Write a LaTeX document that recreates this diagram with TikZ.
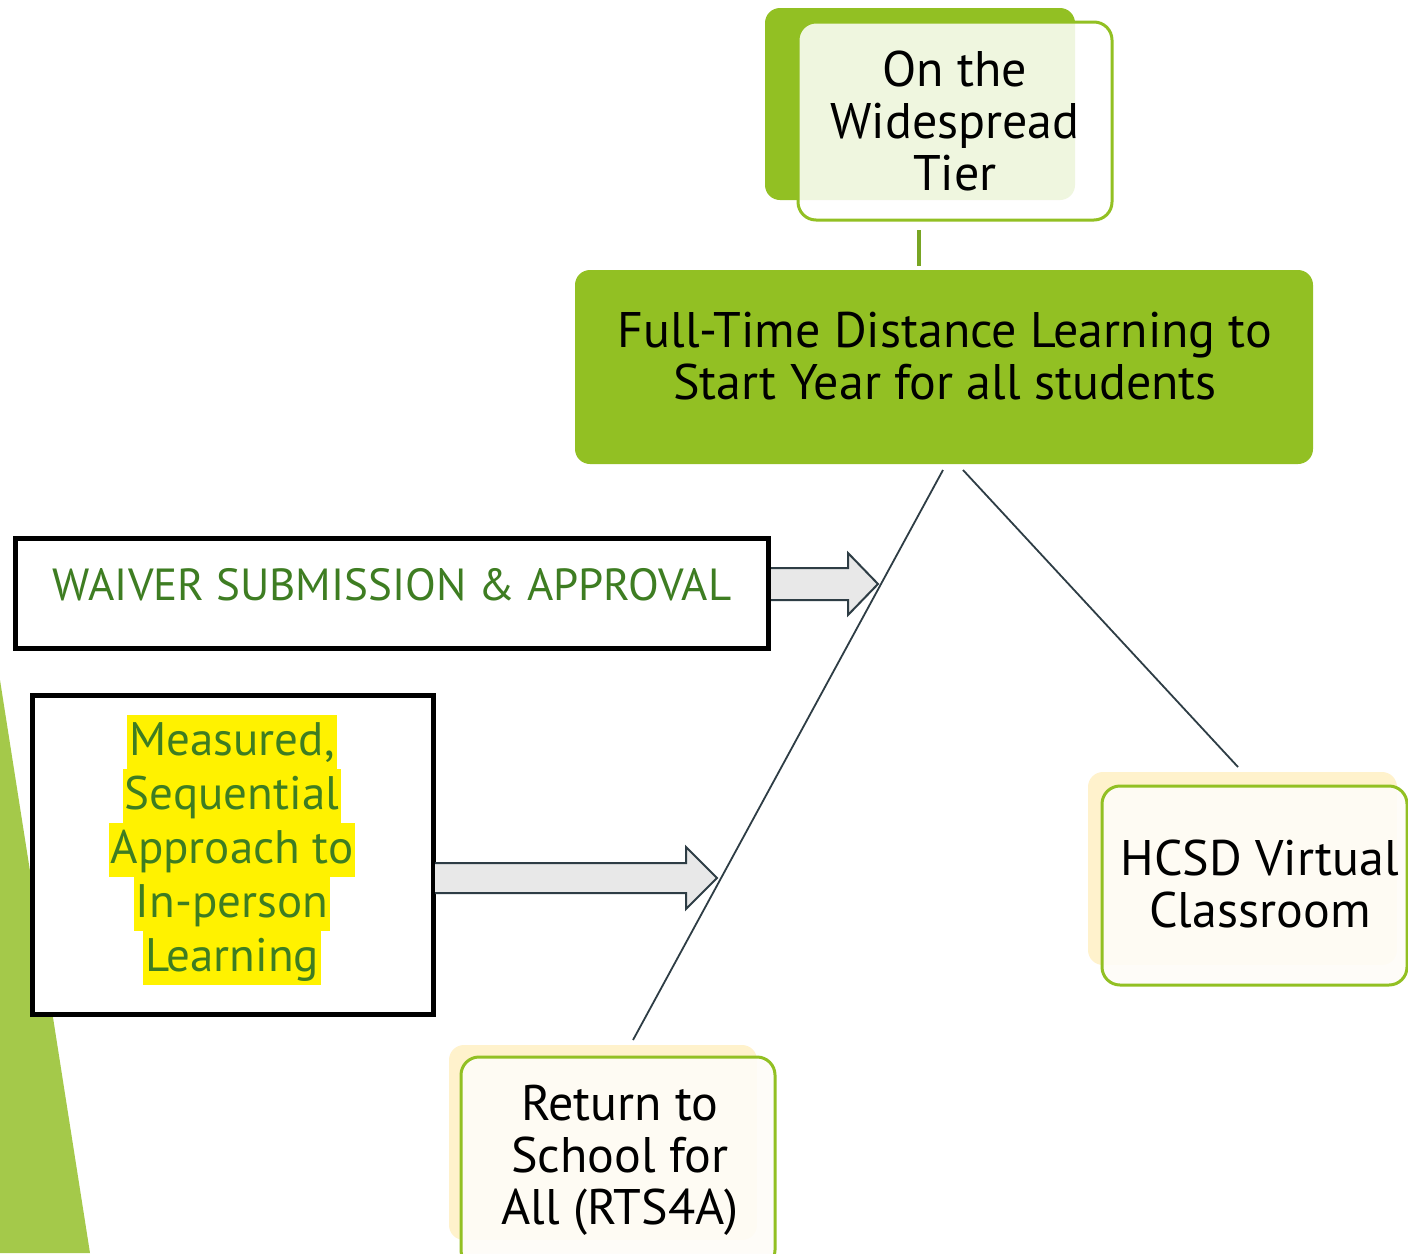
\documentclass[tikz,border=0pt]{standalone}
\usepackage{fontspec}
\setmainfont{PT Sans}
\definecolor{mgreen}{RGB}{146,192,35}
\definecolor{cgreen}{RGB}{120,165,35}
\definecolor{tgreen}{RGB}{164,201,74}
\definecolor{cream}{RGB}{255,242,204}
\definecolor{dgreen}{RGB}{62,125,34}
\definecolor{slate}{RGB}{46,61,69}
\definecolor{afill}{RGB}{232,232,232}
\definecolor{paper}{RGB}{254,252,248}
\tikzset{
  big/.style={font=\fontsize{50}{52}\selectfont, align=center},
  backbox/.style={rounded corners=15pt},
  frontbox/.style={draw=mgreen, line width=3pt, rounded corners=18pt},
  blackbox/.style={draw=black, line width=5pt, fill=white},
  hl/.style={fill=yellow, inner xsep=2pt, inner ysep=0pt, text height=40pt, text depth=14pt, text=dgreen, font=\fontsize{47}{54}\selectfont},
  conn/.style={draw=slate, line width=1.8pt},
  blockarrow/.style={draw=slate, line width=2pt, fill=afill, line join=miter}
}
\begin{document}
\begin{tikzpicture}[x=1pt,y=-1pt]
\useasboundingbox (0,0) rectangle (1408,1253);
\clip (0,0) rectangle (1408,1253);
\fill[white] (0,0) rectangle (1408,1253);
% left green triangle
\fill[tgreen] (0,680) -- (90,1253) -- (0,1253) -- cycle;

% top box
\fill[mgreen, backbox] (765,8) rectangle (1075,200);
\path[frontbox, fill=white, fill opacity=0.86] (798,22) rectangle (1112,220);
\node[big] (top) at (955,121) {On the\\Widespread\\Tier};

% main box
\fill[mgreen, rounded corners=15pt] (575,270) rectangle (1313,464);
\node[big, inner sep=0pt] (main) at (945,356) {Full-Time Distance Learning to\\Start Year for all students};
\coordinate (topb) at (919,230);
\coordinate (mainN) at (919,266);
\draw[cgreen, line width=3.5pt] (topb) -- (mainN);

% HCSD
\fill[cream, backbox] (1088,772) rectangle (1397,965);
\path[frontbox, fill=paper, fill opacity=0.9] (1102,786) rectangle (1407,985);
\node[big] (hcsd) at (1260,884) {HCSD Virtual\\Classroom};

% Return
\fill[cream, backbox] (449,1045) rectangle (757,1240);
\path[frontbox, fill=paper, fill opacity=0.9] (461,1057) rectangle (775,1268);
\node[big] (rts) at (620,1160) {Return to\\School for\\All (RTS4A)};

% connectors
\coordinate (mL) at (943,470);
\coordinate (mR) at (963,470);
\coordinate (rtsN) at (633,1040);
\coordinate (hcsdN) at (1238,767);
\draw[conn] (mL) -- (rtsN);
\draw[conn] (mR) -- (hcsdN);

% waiver box
\path[blackbox] (15,538) rectangle (768,648);
\node[font=\fontsize{45}{52}\selectfont, text=dgreen] (waiver) at (392,585) {WAIVER SUBMISSION \& APPROVAL};

% measured box
\path[blackbox] (32,695) rectangle (433,1014);
\node[hl] (m1) at (232,742) {Measured,};
\node[hl] (m2) at (232,796) {Sequential};
\node[hl] (m3) at (232,850) {Approach to};
\node[hl] (m4) at (232,904) {In-person};
\node[hl] (m5) at (232,958) {Learning};

% block arrows
\draw[blockarrow] (771,568) -- (848,568) -- (848,553) -- (878,584) -- (848,615) -- (848,600) -- (771,600);
\draw[blockarrow] (435,863) -- (686,863) -- (686,847) -- (717,878) -- (686,909) -- (686,893) -- (435,893);
\end{tikzpicture}
\end{document}
